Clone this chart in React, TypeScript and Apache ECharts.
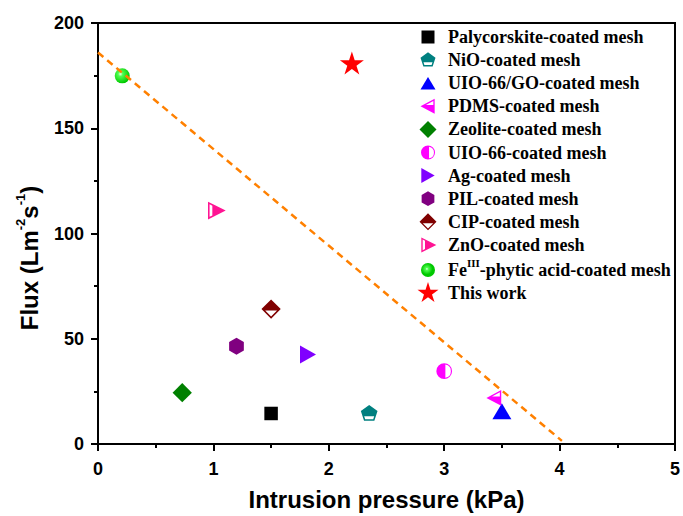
import React, { useEffect, useRef } from "react";
import * as echarts from "echarts";

// ---- data ----
const seriesNames = [
  "Palycorskite-coated mesh",
  "NiO-coated mesh",
  "UIO-66/GO-coated mesh",
  "PDMS-coated mesh",
  "Zeolite-coated mesh",
  "UIO-66-coated mesh",
  "Ag-coated mesh",
  "PIL-coated mesh",
  "CIP-coated mesh",
  "ZnO-coated mesh",
  "FeIII-phytic acid-coated mesh",
  "This work",
];
const pressureValues = [1.5, 2.35, 3.5, 3.43, 0.73, 3.0, 1.82, 1.2, 1.5, 1.03, 0.21, 2.2];
const fluxValues = [14.5, 14.8, 15.5, 21.9, 24.4, 34.6, 42.5, 46.4, 64.1, 110.9, 174.9, 181];
const trendPressure = [0, 4.02];
const trendFlux = [186, 1.5];

// ---- styles ----
const colors = [
  "#000000", "#008080", "#0000FF", "#FF00FF", "#008000", "#FF00FF",
  "#8000FF", "#800080", "#800000", "#FF1493", "#00E000", "#FF0000",
];

// shapes centred on origin: [path, largest extent (units), plot size px, legend size px]
const shapes: [string, number, number, number][] = [
  ["M-5,-5 L5,-5 L5,5 L-5,5 Z", 10, 13.5, 13],
  ["M0,-10 L9.51,-3.09 L5.88,8.09 L-5.88,8.09 L-9.51,-3.09 Z M-5.7,2.8 L-4.57,6.29 L4.57,6.29 L5.7,2.8 Z", 19.02, 16.7, 15],
  ["M0,-8 L9.5,8 L-9.5,8 Z", 19, 19, 15],
  ["M-9,0 L8,-9 L8,9 Z M-2.57,-1.6 L6.4,-1.6 L6.4,-6.35 Z", 18, 15.7, 15],
  ["M0,-10 L10,0 L0,10 L-10,0 Z", 20, 19.3, 17],
  ["M0,-10 A10,10 0 0,1 0,10 A10,10 0 0,1 0,-10 Z M1.5,-8.37 L1.5,8.37 A8.5,8.5 0 0,0 1.5,-8.37 Z", 20, 15.7, 14],
  ["M-8,-9 L8,0 L-8,9 Z", 18, 18, 15],
  ["M0,-9 L7.8,-4.5 L7.8,4.5 L0,9 L-7.8,4.5 L-7.8,-4.5 Z", 18, 17, 14.7],
  ["M0,-10 L10,0 L0,10 L-10,0 Z M-6.14,1.6 L0,7.74 L6.14,1.6 Z", 20, 19.3, 17],
  ["M-8,-9 L10,0 L-8,9 Z M-6.4,-6.41 L-6.4,6.41 L-3.6,5.01 L-3.6,-5.01 Z", 18, 17.7, 15],
  ["M0,-10 A10,10 0 0,1 0,10 A10,10 0 0,1 0,-10 Z", 20, 15, 14],
  ["M0,-12 L2.69,-3.71 L11.41,-3.71 L4.36,1.42 L7.05,9.71 L0,4.58 L-7.05,9.71 L-4.36,1.42 L-11.41,-3.71 L-2.69,-3.71 Z", 22.8, 24, 21],
];

const LEGEND_H = 22;

function legendIcon(path: string, extent: number, target: number) {
  const p = ((LEGEND_H / 2) * extent) / target;
  return `path://M${-p},${-p} M${p},${p} ${path}`;
}

function sphere(cx: number, cy: number, r: number) {
  return {
    type: "radial",
    x: cx,
    y: cy,
    r: r,
    colorStops: [
      { offset: 0, color: "#f0fff0" },
      { offset: 0.25, color: "#50ff50" },
      { offset: 1, color: "#00c800" },
    ],
  };
}

export default function App() {
  const ref = useRef<HTMLDivElement>(null);
  useEffect(() => {
    if (!ref.current) return;
    const chart = echarts.init(ref.current, undefined, { renderer: "svg" });

    const scatter = seriesNames.map((name, i) => {
      const [path, , size] = shapes[i];
      const isFe = i === 10;
      return {
        type: "scatter",
        name,
        data: [[pressureValues[i], fluxValues[i]]],
        symbol: "path://" + path,
        symbolSize: size,
        symbolKeepAspect: true,
        itemStyle: {
          color: isFe ? sphere(0.38, 0.38, 0.62) : colors[i],
          opacity: 1,
        },
        z: 3,
      };
    });

    const legendData = seriesNames.map((name, i) => {
      const [path, extent, , lsize] = shapes[i];
      const item: any = { name, icon: legendIcon(path, extent, lsize) };
      if (i === 10) {
        const p = ((LEGEND_H / 2) * extent) / lsize;
        item.itemStyle = {
          color: sphere((p - 2.5) / (2 * p), (p - 2.5) / (2 * p), 12.5 / (2 * p)),
        };
      }
      return item;
    });

    const axisFont = {
      fontFamily: "Liberation Sans",
      fontWeight: "bold",
      fontSize: 18,
      color: "#000",
    };

    const serifToken = {
      fontFamily: "Liberation Serif",
      fontWeight: "bold",
      fontSize: 18,
      color: "#000",
    };

    chart.setOption({
      animation: false,
      backgroundColor: "#fff",
      grid: {
        left: 98,
        right: 6,
        top: 23,
        bottom: 70,
        show: true,
        borderColor: "#000",
        borderWidth: 2,
      },
      xAxis: {
        type: "value",
        min: 0,
        max: 5,
        interval: 1,
        name: "Intrusion pressure (kPa)",
        nameLocation: "middle",
        nameGap: 43,
        nameTextStyle: {
          fontFamily: "Liberation Sans",
          fontWeight: "bold",
          fontSize: 24,
          color: "#000",
        },
        axisLine: { lineStyle: { color: "#000", width: 2 } },
        axisTick: { inside: false, length: 7, lineStyle: { color: "#000", width: 2 } },
        minorTick: { show: true, splitNumber: 2, length: 4, lineStyle: { color: "#000", width: 2 } },
        splitLine: { show: false },
        axisLabel: { ...axisFont, margin: 16 },
      },
      yAxis: {
        type: "value",
        min: 0,
        max: 200,
        interval: 50,
        axisLine: { lineStyle: { color: "#000", width: 2 } },
        axisTick: { inside: false, length: 7, lineStyle: { color: "#000", width: 2 } },
        minorTick: { show: true, splitNumber: 2, length: 4, lineStyle: { color: "#000", width: 2 } },
        splitLine: { show: false },
        axisLabel: { ...axisFont, margin: 14 },
      },
      legend: {
        orient: "vertical",
        left: 417,
        top: 26,
        padding: 0,
        itemWidth: 30,
        itemHeight: LEGEND_H,
        itemGap: 1.1,
        selectedMode: false,
        symbolKeepAspect: true,
        data: legendData,
        formatter: (name: string) =>
          name.startsWith("FeIII")
            ? "{f|Fe}{s|III}{f|-phytic acid-coated mesh}"
            : "{t|" + name + "}",
        textStyle: {
          ...serifToken,
          rich: {
            t: { ...serifToken, lineHeight: 18 },
            f: { ...serifToken, lineHeight: 26 },
            s: {
              ...serifToken,
              fontSize: 11,
              lineHeight: 17,
              verticalAlign: "top",
            },
          },
        },
      },
      graphic: [
        {
          type: "text",
          x: 29,
          y: 258,
          rotation: Math.PI / 2,
          style: {
            text: "{t|Flux (Lm}{s|-2}{t|s}{s|-1}{t|)}",
            align: "center",
            verticalAlign: "middle",
            fill: "#000",
            rich: {
              t: {
                fontFamily: "Liberation Sans",
                fontWeight: "bold",
                fontSize: 24,
                lineHeight: 30,
                fill: "#000",
              },
              s: {
                fontFamily: "Liberation Sans",
                fontWeight: "bold",
                fontSize: 13,
                lineHeight: 20,
                verticalAlign: "top",
                fill: "#000",
              },
            },
          },
        },
      ],
      series: [
        ...scatter,
        {
          type: "line",
          name: "trend",
          data: trendPressure.map((x, i) => [x, trendFlux[i]]),
          symbol: "none",
          silent: true,
          lineStyle: { color: "#FF8000", width: 2.5, type: [7, 5] },
          z: 4,
        },
      ],
    });

    return () => chart.dispose();
  }, []);

  return (
    <div
      ref={ref}
      style={{ position: "absolute", left: 0, top: 0, width: 683, height: 516 }}
    />
  );
}
